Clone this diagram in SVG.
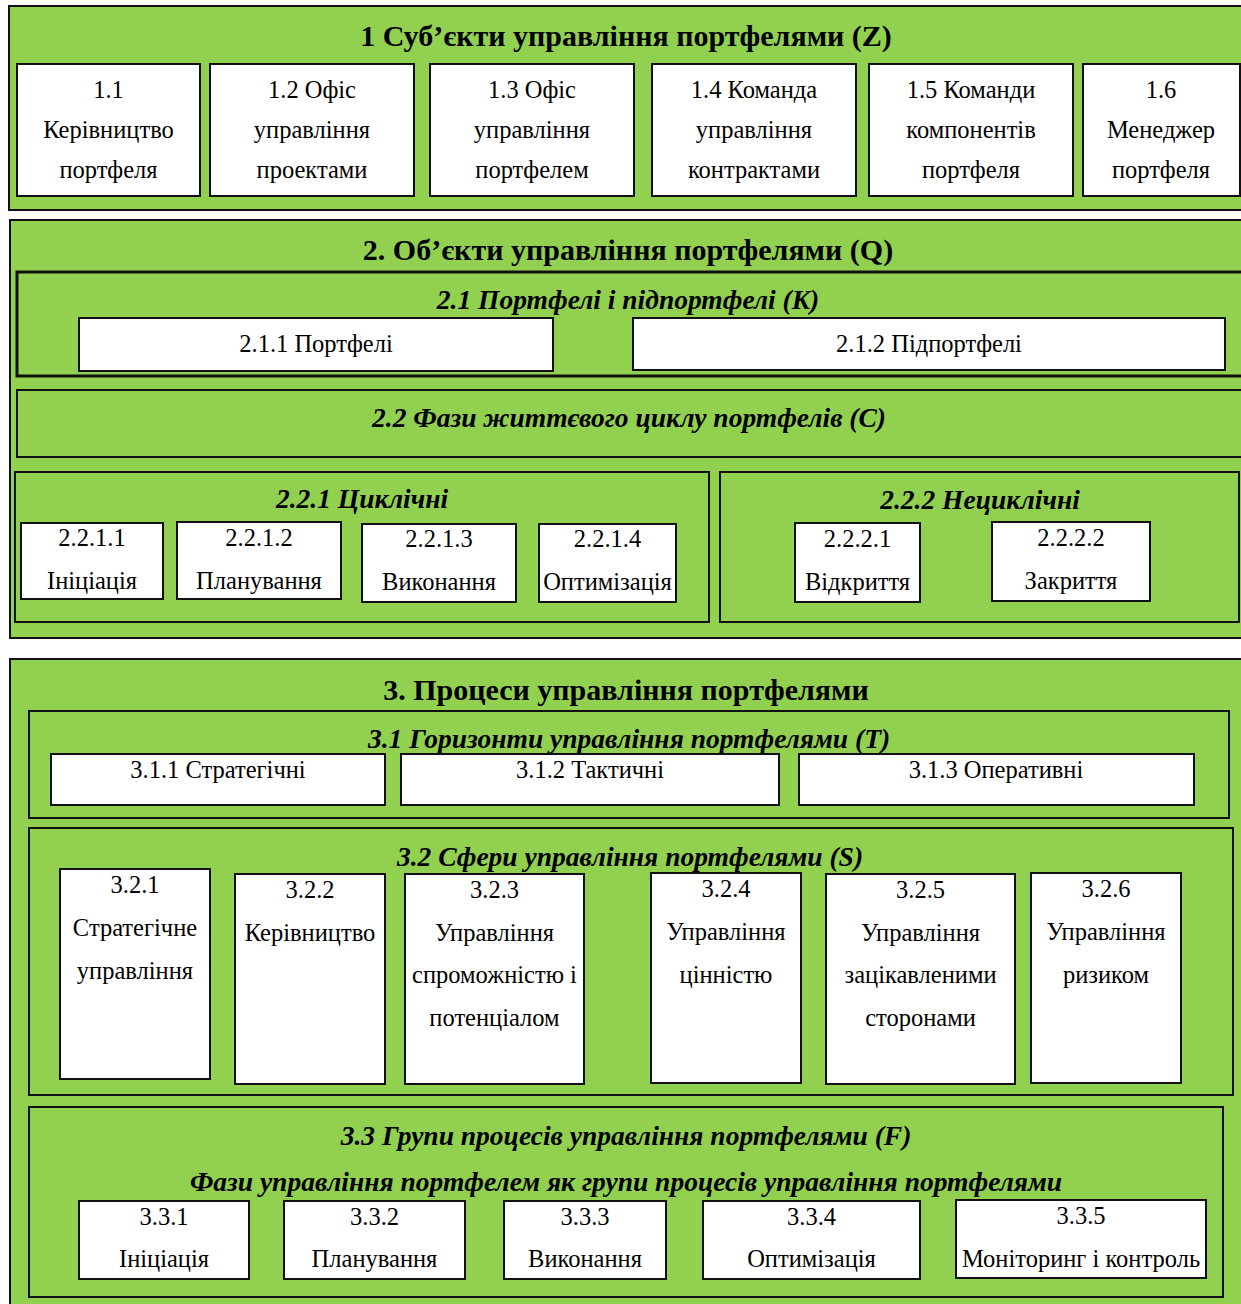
<svg xmlns="http://www.w3.org/2000/svg" width="1241" height="1304" viewBox="0 0 1241 1304">
<style>
.sec{fill:#92d050;stroke:#111;stroke-width:2}
.sub{fill:#92d050;stroke:#111;stroke-width:2}
.thick{stroke-width:3}
.box{fill:#fff;stroke:#111;stroke-width:2}
text{font-family:"Liberation Serif","Times New Roman",serif;font-size:24.5px;text-anchor:middle;fill:#000}
.h1{font-weight:bold;font-size:30px}
.h2{font-weight:bold;font-style:italic;font-size:27.5px}
</style>
<rect width="1241" height="1304" fill="#fff"/>
<!-- Section 1 -->
<g id="sec1">
<rect class="sec" x="9" y="6" width="1234" height="204"/>
<text class="h1" x="626" y="46">1 Суб’єкти управління портфелями (Z)</text>
</g>
<g id="n1_1"><rect class="box" x="17" y="64" width="183" height="132"/><text x="108.5" y="98">1.1</text><text x="108.5" y="138">Керівництво</text><text x="108.5" y="178">портфеля</text></g>
<g id="n1_2"><rect class="box" x="210" y="64" width="204" height="132"/><text x="312" y="98">1.2 Офіс</text><text x="312" y="138">управління</text><text x="312" y="178">проектами</text></g>
<g id="n1_3"><rect class="box" x="430" y="64" width="204" height="132"/><text x="532" y="98">1.3 Офіс</text><text x="532" y="138">управління</text><text x="532" y="178">портфелем</text></g>
<g id="n1_4"><rect class="box" x="652" y="64" width="204" height="132"/><text x="754" y="98">1.4 Команда</text><text x="754" y="138">управління</text><text x="754" y="178">контрактами</text></g>
<g id="n1_5"><rect class="box" x="869" y="64" width="204" height="132"/><text x="971" y="98">1.5 Команди</text><text x="971" y="138">компонентів</text><text x="971" y="178">портфеля</text></g>
<g id="n1_6"><rect class="box" x="1083" y="64" width="157" height="132"/><text x="1161" y="98">1.6</text><text x="1161" y="138">Менеджер</text><text x="1161" y="178">портфеля</text></g>

<!-- Section 2 -->
<g id="sec2">
<rect class="sec" x="10" y="220" width="1234" height="418"/>
<text class="h1" x="628" y="260">2. Об’єкти управління портфелями (Q)</text>
</g>
<g id="n2_1">
<rect class="sub thick" x="17" y="272" width="1226" height="104"/>
<text class="h2" x="628" y="309">2.1 Портфелі і підпортфелі (K)</text>
</g>
<g id="n2_1_1"><rect class="box thick" x="79" y="318" width="474" height="53"/><text x="316" y="352">2.1.1 Портфелі</text></g>
<g id="n2_1_2"><rect class="box thick" x="633" y="318" width="592" height="52"/><text x="929" y="352">2.1.2 Підпортфелі</text></g>
<g id="n2_2">
<rect class="sub" x="17" y="390" width="1226" height="67"/>
<text class="h2" x="629" y="427">2.2 Фази життєвого циклу портфелів (C)</text>
</g>
<g id="n2_2_1">
<rect class="sub" x="15" y="472" width="694" height="150"/>
<text class="h2" x="362" y="508">2.2.1 Циклічні</text>
</g>
<g id="n2_2_1_1"><rect class="box" x="21" y="523" width="142" height="76"/><text x="92" y="546">2.2.1.1</text><text x="92" y="589">Ініціація</text></g>
<g id="n2_2_1_2"><rect class="box" x="177" y="522" width="164" height="77"/><text x="259" y="546">2.2.1.2</text><text x="259" y="589">Планування</text></g>
<g id="n2_2_1_3"><rect class="box" x="362" y="524" width="154" height="78"/><text x="439" y="547">2.2.1.3</text><text x="439" y="590">Виконання</text></g>
<g id="n2_2_1_4"><rect class="box" x="539" y="524" width="137" height="78"/><text x="607.5" y="547">2.2.1.4</text><text x="607.5" y="590">Оптимізація</text></g>
<g id="n2_2_2">
<rect class="sub" x="720" y="472" width="519" height="150"/>
<text class="h2" x="980" y="509">2.2.2 Нециклічні</text>
</g>
<g id="n2_2_2_1"><rect class="box" x="795" y="523" width="125" height="79"/><text x="857.5" y="547">2.2.2.1</text><text x="857.5" y="590">Відкриття</text></g>
<g id="n2_2_2_2"><rect class="box" x="992" y="522" width="158" height="79"/><text x="1071" y="546">2.2.2.2</text><text x="1071" y="589">Закриття</text></g>

<!-- Section 3 -->
<g id="sec3">
<rect class="sec" x="10" y="659" width="1234" height="650"/>
<text class="h1" x="626" y="700">3. Процеси управління портфелями</text>
</g>
<g id="n3_1">
<rect class="sub" x="29" y="711" width="1200" height="107"/>
<text class="h2" x="629" y="748">3.1 Горизонти управління портфелями (T)</text>
</g>
<g id="n3_1_1"><rect class="box" x="51" y="754" width="334" height="51"/><text x="218" y="778">3.1.1 Стратегічні</text></g>
<g id="n3_1_2"><rect class="box" x="401" y="754" width="378" height="51"/><text x="590" y="778">3.1.2 Тактичні</text></g>
<g id="n3_1_3"><rect class="box" x="799" y="754" width="395" height="51"/><text x="996" y="778">3.1.3 Оперативні</text></g>
<g id="n3_2">
<rect class="sub" x="29" y="828" width="1204" height="267"/>
<text class="h2" x="630" y="866">3.2 Сфери управління портфелями (S)</text>
</g>
<g id="n3_2_1"><rect class="box" x="60" y="869" width="150" height="210"/><text x="135" y="893">3.2.1</text><text x="135" y="936">Стратегічне</text><text x="135" y="979">управління</text></g>
<g id="n3_2_2"><rect class="box" x="235" y="874" width="150" height="210"/><text x="310" y="898">3.2.2</text><text x="310" y="941">Керівництво</text></g>
<g id="n3_2_3"><rect class="box" x="405" y="874" width="179" height="210"/><text x="494.5" y="898">3.2.3</text><text x="494.5" y="941">Управління</text><text x="494.5" y="983">спроможністю і</text><text x="494.5" y="1026">потенціалом</text></g>
<g id="n3_2_4"><rect class="box" x="651" y="873" width="150" height="210"/><text x="726" y="897">3.2.4</text><text x="726" y="940">Управління</text><text x="726" y="983">цінністю</text></g>
<g id="n3_2_5"><rect class="box" x="826" y="874" width="189" height="210"/><text x="920.5" y="898">3.2.5</text><text x="920.5" y="941">Управління</text><text x="920.5" y="983">зацікавленими</text><text x="920.5" y="1026">сторонами</text></g>
<g id="n3_2_6"><rect class="box" x="1031" y="873" width="150" height="210"/><text x="1106" y="897">3.2.6</text><text x="1106" y="940">Управління</text><text x="1106" y="983">ризиком</text></g>
<g id="n3_3">
<rect class="sub" x="29" y="1107" width="1194" height="190"/>
<text class="h2" x="626" y="1145">3.3 Групи процесів управління портфелями (F)</text>
<text class="h2" x="626" y="1191">Фази управління портфелем як групи процесів управління портфелями</text>
</g>
<g id="n3_3_1"><rect class="box" x="79" y="1201" width="170" height="78"/><text x="164" y="1225">3.3.1</text><text x="164" y="1267">Ініціація</text></g>
<g id="n3_3_2"><rect class="box" x="284" y="1201" width="181" height="78"/><text x="374.5" y="1225">3.3.2</text><text x="374.5" y="1267">Планування</text></g>
<g id="n3_3_3"><rect class="box" x="504" y="1201" width="162" height="78"/><text x="585" y="1225">3.3.3</text><text x="585" y="1267">Виконання</text></g>
<g id="n3_3_4"><rect class="box" x="703" y="1201" width="217" height="78"/><text x="811.5" y="1225">3.3.4</text><text x="811.5" y="1267">Оптимізація</text></g>
<g id="n3_3_5"><rect class="box" x="956" y="1200" width="250" height="78"/><text x="1081" y="1224">3.3.5</text><text x="1081" y="1267">Моніторинг і контроль</text></g>
<g id="connectors"></g>
</svg>
